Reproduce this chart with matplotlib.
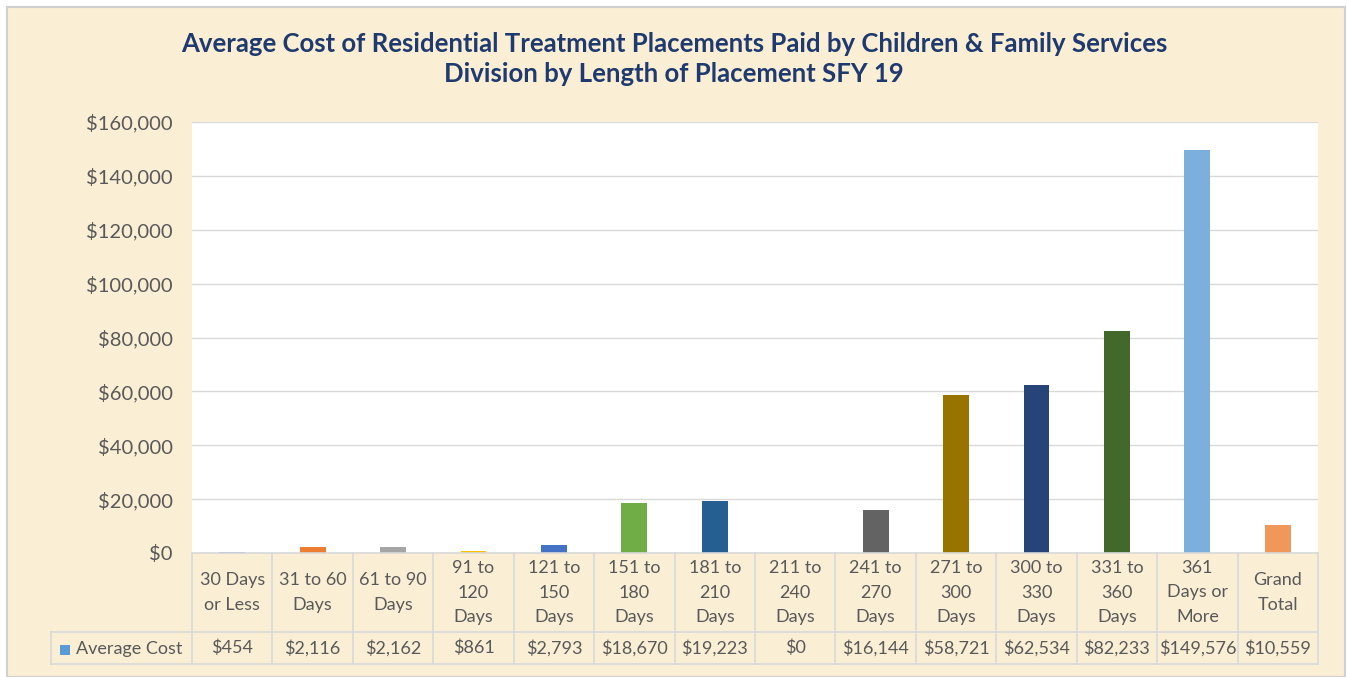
import numpy as np
import matplotlib.pyplot as plt
from matplotlib.transforms import blended_transform_factory
from matplotlib.patches import Rectangle

# 数据
categories = ["30 Days\nor Less", "31 to 60\nDays", "61 to 90\nDays", "91 to\n120\nDays",
              "121 to\n150\nDays", "151 to\n180\nDays", "181 to\n210\nDays", "211 to\n240\nDays",
              "241 to\n270\nDays", "271 to\n300\nDays", "300 to\n330\nDays", "331 to\n360\nDays",
              "361\nDays or\nMore", "Grand\nTotal"]
avg_cost = [454, 2116, 2162, 861, 2793, 18670, 19223, 0, 16144, 58721, 62534, 82233, 149576, 10559]
bar_colors = ["#5B9BD5", "#ED7D31", "#A5A5A5", "#FFC000", "#4472C4", "#70AD47", "#255E91",
              "#9E480E", "#636363", "#997300", "#264478", "#43682B", "#7CAFDD", "#F1975A"]
series_name = "Average Cost"
title = ("Average Cost of Residential Treatment Placements Paid by Children & Family Services\n"
         "Division by Length of Placement SFY 19")

plt.rcParams['font.family'] = ['Lato', 'DejaVu Sans']
W, H = 1348, 677
fig = plt.figure(figsize=(W / 100, H / 100), dpi=100)
fig.patch.set_facecolor("white")

# 背景与边框
bg = Rectangle((7 / W, 0), (1345 - 7) / W, (H - 7) / H, transform=fig.transFigure,
               facecolor="#FAEED5", edgecolor="#D0D0D0", linewidth=1.5, zorder=-10)
fig.patches.append(bg)

# 绘图区
left, right, top, bottom = 192, 1318, 122, 553
ax = fig.add_axes([left / W, (H - bottom) / H, (right - left) / W, (bottom - top) / H])
ax.set_facecolor("white")
x = np.arange(len(categories))
ax.bar(x, avg_cost, width=0.32, color=bar_colors, zorder=3)
ax.set_xlim(-0.5, len(categories) - 0.5)
ax.set_ylim(0, 160000)
ax.set_yticks(np.arange(0, 160001, 20000))
ax.set_yticklabels(["${:,.0f}".format(v) for v in np.arange(0, 160001, 20000)])
ax.tick_params(axis="y", length=0, pad=14, labelsize=14.5, labelcolor="#595959")
ax.set_xticks([])
ax.grid(axis="y", color="#D9D9D9", linewidth=1, zorder=0)
for s in ax.spines.values():
    s.set_visible(False)

fig.text(0.5, 1 - 59 / H, title, ha="center", va="center", fontsize=18.5,
         fontweight="bold", color="#1F3A6E", linespacing=1.32)

# 数据表
tr = blended_transform_factory(ax.transData, ax.transAxes)
px = 1.0 / (bottom - top)
y0 = 0
y1 = -(632 - bottom) * px
y2 = -(664 - bottom) * px
xl = -0.5 - (left - 51) / ((right - left) / len(categories))
lc = "#D9D9D9"
kw = dict(transform=tr, clip_on=False, color=lc, linewidth=1.2, zorder=5)
n = len(categories)
ax.plot([-0.5, n - 0.5], [y0, y0], **kw)
ax.plot([xl, n - 0.5], [y1, y1], **kw)
ax.plot([xl, n - 0.5], [y2, y2], **kw)
ax.plot([xl, xl], [y1, y2], **kw)
for i in range(n + 1):
    ax.plot([i - 0.5, i - 0.5], [y0, y2], **kw)
for i in range(n):
    ax.text(i, (y0 + y1) / 2, categories[i], transform=tr, ha="center", va="center",
            fontsize=13, color="#595959", linespacing=1.62)
    ax.text(i, (y1 + y2) / 2, "${:,}".format(avg_cost[i]), transform=tr, ha="center",
            va="center", fontsize=13, color="#595959")
fig.patches.append(Rectangle((60 / W, 1 - 655 / H), 10 / W, 10 / H, transform=fig.transFigure,
                             facecolor=bar_colors[0], edgecolor="none", zorder=6))
fig.text(76 / W, 1 - 649 / H, series_name, ha="left", va="center", fontsize=13, color="#595959")

fig.savefig("out.png", dpi=100, facecolor=fig.get_facecolor())
